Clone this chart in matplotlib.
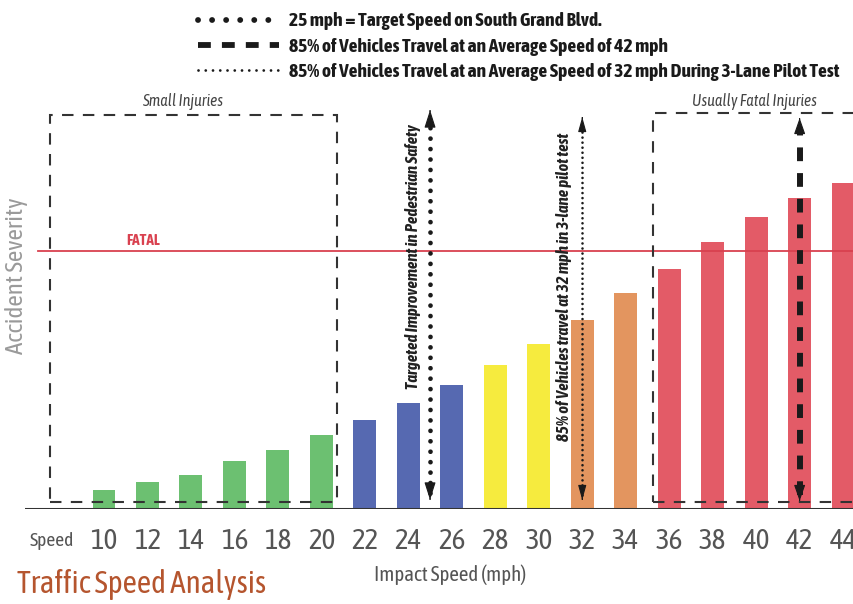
import matplotlib
matplotlib.use("Agg")
import matplotlib.pyplot as plt
import matplotlib.font_manager as fm
from matplotlib.lines import Line2D
from matplotlib.patches import Rectangle

# --- data --------------------------------------------------------------------------------- #
SPEEDS = [10, 12, 14, 16, 18, 20, 22, 24, 26, 28, 30, 32, 34, 36, 38, 40, 42, 44]
SEVERITY = [19, 27, 34, 48, 59, 74, 89, 106, 124, 144, 165, 189, 216, 240, 267, 292, 311, 326]
BAR_COLORS = (["#6cc071"] * 6 + ["#5669b1"] * 3 + ["#f6eb3e"] * 2 + ["#e3955f"] * 2
              + ["#e35b67"] * 5)
FATAL_LEVEL = 258
TARGET_SPEED = 25          # mph, target on South Grand Blvd.
PILOT_SPEED = 32           # mph, 3-lane pilot test
AVG_SPEED = 42             # mph, 85th percentile today
SMALL_BOX = (7.52, 20.72)  # mph span of the "Small Injuries" box
FATAL_BOX = (35.26, 45.5)  # mph span of the "Usually Fatal Injuries" box

LEGEND_LABELS = [
    "25 mph = Target Speed on South Grand Blvd.",
    "85% of Vehicles Travel at an Average Speed of 42 mph",
    "85% of Vehicles Travel at an Average Speed of 32 mph During 3-Lane Pilot Test",
]

# the reference uses a condensed grotesque; take the fullest narrow family on the box
faces = {}
for f in fm.fontManager.ttflist:
    narrow_name = "Narrow" in f.name or "Condensed" in f.name
    narrow_stretch = f.stretch in ("condensed", "semi-condensed", "extra-condensed")
    if narrow_name or narrow_stretch:
        key = (f.name, "normal" if narrow_name else "condensed")
        w = f.weight if isinstance(f.weight, int) else {"bold": 700}.get(f.weight, 400)
        faces.setdefault(key, set()).add((w >= 600, f.style != "normal"))
narrow = max(faces, key=lambda k: (len(faces[k]), k[1] == "normal")) if faces else None
if narrow is not None:
    plt.rcParams["font.family"] = [narrow[0], "DejaVu Sans"]
    plt.rcParams["font.stretch"] = narrow[1]
    K = 1.0
else:
    plt.rcParams["font.family"] = ["Liberation Sans", "DejaVu Sans"]
    K = 0.82

W, H = 854, 604
fig = plt.figure(figsize=(W / 100, H / 100), dpi=100)
ax = fig.add_axes([25 / W, 95 / H, 829 / W, 414 / H])
ax.set_xlim(6.37, 44.5)
ax.set_ylim(0, 414)
for s in ax.spines.values():
    s.set_visible(False)
ax.set_yticks([])

ax.bar(SPEEDS, SEVERITY, width=1.05, color=BAR_COLORS, zorder=2)
ax.axhline(0, color="#333333", lw=2.2, zorder=4)
ax.plot([6.97, 44.5], [FATAL_LEVEL, FATAL_LEVEL], color="#d9414f", lw=1.3, zorder=3)
ax.text(11.8, FATAL_LEVEL + 3, "FATAL", color="#d9414f", fontsize=11 * K, fontweight="bold",
        va="bottom", ha="center")

# dashed injury boxes
box_kw = dict(fill=False, ec="#333333", lw=1.5, ls=(0, (5.5, 4.5)), zorder=5)
ax.add_patch(Rectangle((SMALL_BOX[0], 7), SMALL_BOX[1] - SMALL_BOX[0], 387, **box_kw))
ax.add_patch(Rectangle((FATAL_BOX[0], 7), FATAL_BOX[1] - FATAL_BOX[0], 389, **box_kw))
ax.text(sum(SMALL_BOX) / 2 - 0.5, 399, "Small Injuries", fontsize=11.5 * K, style="italic",
        color="#444444", ha="center", va="bottom",
        bbox=dict(fc="white", ec="none", pad=0.5))
ax.text(39.9, 399, "Usually Fatal Injuries", fontsize=11.5 * K, style="italic",
        color="#444444", ha="center", va="bottom",
        bbox=dict(fc="white", ec="none", pad=0.5))


# vertical double-headed arrows
def arrow_heads(x, y0, y1, head_w, head_l):
    style = f"-|>,head_width={head_w},head_length={head_l}"
    for tip, base in ((y1, y1 - 1), (y0, y0 + 1)):
        ax.annotate("", xy=(x, tip), xytext=(x, base),
                    arrowprops=dict(arrowstyle=style, color="#1a1a1a", lw=0.8,
                                    shrinkA=0, shrinkB=0), zorder=6)


ax.plot([TARGET_SPEED] * 2, [16, 388], color="#1a1a1a", lw=3.4, ls=(0, (0.01, 2.2)),
        dash_capstyle="round", zorder=6)
arrow_heads(TARGET_SPEED, 9, 399, 0.35, 1.1)
ax.plot([PILOT_SPEED] * 2, [14, 384], color="#1a1a1a", lw=1.9, ls=(0, (0.01, 1.9)),
        dash_capstyle="round", zorder=6)
arrow_heads(PILOT_SPEED, 9, 392, 0.25, 0.9)
ax.plot([AVG_SPEED] * 2, [14, 378], color="#1a1a1a", lw=4.3, ls=(0, (2.3, 2.0)), zorder=6)
arrow_heads(AVG_SPEED, 8, 391, 0.35, 1.0)

ax.text(TARGET_SPEED - 0.8, 252, "Targeted Improvement in Pedestrian Safety", rotation=90,
        fontsize=12 * K, fontweight="bold", style="italic", color="#222222",
        ha="center", va="center")
ax.text(PILOT_SPEED - 0.85, 222, "85% of Vehicles travel at 32 mph in 3-lane pilot test",
        rotation=90, fontsize=12 * K, fontweight="bold", style="italic", color="#222222",
        ha="center", va="center")

# x axis labelling
ax.set_xticks(SPEEDS)
ax.set_xticklabels([str(s) for s in SPEEDS], fontsize=21 * K, color="#555555")
ax.tick_params(axis="x", length=0, pad=14)
ax.text(7.6, -32, "Speed", fontsize=14 * K, color="#555555", ha="center", va="center")
ax.set_xlabel("Impact Speed (mph)", fontsize=15 * K, color="#555555")
ax.xaxis.set_label_coords(0.513, -0.135)
fig.text(17 / W, 1 - 276 / H, "Accident Severity", rotation=90, fontsize=18 * K,
         color="#9a9a9a", ha="center", va="center")
fig.text(17 / W, 1 - 585 / H, "Traffic Speed Analysis", fontsize=22.5 * K, color="#b5552e",
         ha="left", va="center")

# legend across the top
handles = [
    Line2D([], [], color="#1a1a1a", lw=4.2, ls=(0, (0.01, 2.4)), dash_capstyle="round"),
    Line2D([], [], color="#1a1a1a", lw=4.2, ls=(0, (2.2, 1.9))),
    Line2D([], [], color="#1a1a1a", lw=2.0, ls=(0, (0.01, 2.6)), dash_capstyle="round"),
]
fig.legend(handles, LEGEND_LABELS, loc="upper left", bbox_to_anchor=(180 / W, 1 + 5 / H),
           frameon=False, handlelength=4.2 / K, handletextpad=0.5, labelspacing=0.38 / K,
           prop=dict(size=14 * K, weight="bold"), labelcolor="#1a1a1a")

fig.savefig("out.png", dpi=100)
